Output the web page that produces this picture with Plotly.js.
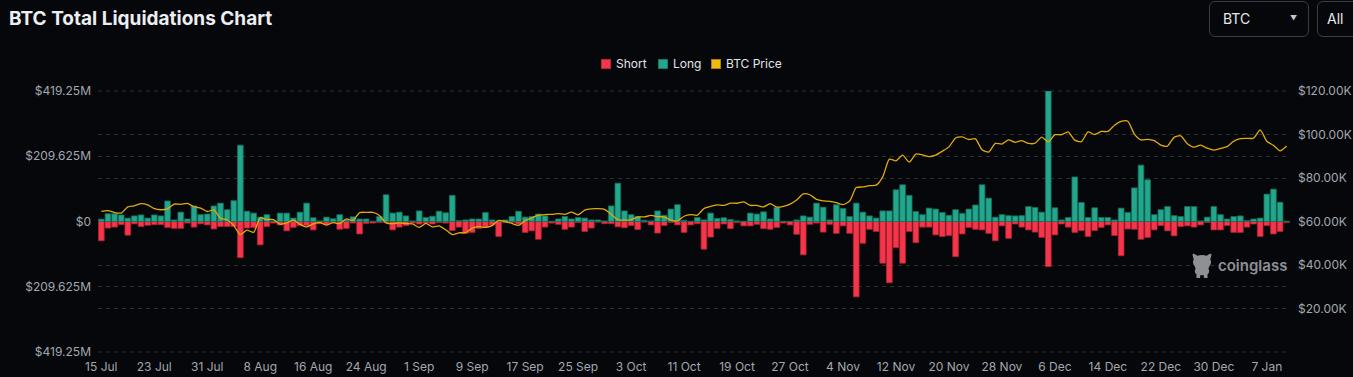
<!DOCTYPE html>
<html><head><meta charset="utf-8">
<script src="https://cdn.plot.ly/plotly-3.0.1.min.js"></script>
<style>
html,body{margin:0;padding:0;background:#05070b;overflow:hidden;}
#wrap{position:relative;width:1353px;height:377px;overflow:hidden;}
#chart{position:absolute;left:0;top:0;width:1353px;height:377px;}
.box{position:absolute;border:1px solid #393c43;border-radius:6px;color:#e6e7ea;font-family:Inter,"Noto Sans",sans-serif;font-size:14px;box-sizing:border-box;}
.lg{position:absolute;top:57px;height:14px;font-family:Inter,"Noto Sans",sans-serif;font-size:12px;color:#e4e5e8;line-height:14px;white-space:nowrap;}
.sq{position:absolute;width:10px;height:10px;top:59px;box-sizing:border-box;}
#wm{position:absolute;left:1218px;top:256px;font-family:Inter,"Noto Sans",sans-serif;font-size:15px;font-weight:600;color:#8e9095;}
</style>
</head><body>
<div id="wrap">
<div id="chart"></div>
<div class="box" style="left:1209px;top:1px;width:100px;height:36px;"><span style="position:absolute;left:13px;top:8px;">BTC</span><span style="position:absolute;left:80px;top:12px;font-size:7px;color:#c4c6ca;">&#9660;</span></div>
<div class="box" style="left:1317px;top:1px;width:70px;height:36px;"><span style="position:absolute;left:9px;top:8px;">All</span></div>
<div class="sq" style="left:601px;background:#f5364a;border:1px solid #b52533;"></div>
<div class="lg" style="left:616px;">Short</div>
<div class="sq" style="left:658px;background:#22a68c;border:1px solid #167661;"></div>
<div class="lg" style="left:673px;">Long</div>
<div class="sq" style="left:711px;background:#f0b90b;border:1px solid #a8820a;"></div>
<div class="lg" style="left:726px;">BTC Price</div>
<svg style="position:absolute;left:1190px;top:252px;" width="24" height="28" viewBox="0 0 26 30">
<path d="M3 4 Q2 1 5 2 L8 4 Q13 2 18 4 L21 2 Q24 1 23 4 L22 8 Q24 12 21 15 L20 18 Q22 22 19 24 L19 28 L15 28 L15 25 L11 25 L11 28 L7 28 L7 24 Q4 22 6 18 L5 15 Q2 12 4 8 Z" fill="#8e9095"/>
</svg>
<div id="wm">coinglass</div>
</div>
<script>
// Dates: daily from 15 Jul 2024 to 10 Jan 2025
var startDate = '2024-07-15';
var dayCount = 180;

// Long liquidations (USD millions), positive
var longLiq = [
 7.5,25,25,21,11,18,21,11,21,18,
 66,5,30,8,50,22,24,50,59,38,
 67,245,33,27,14,22,2,27,27,11,
 30,59,12,2,14,9,22,5,15,8,
 8,1,16,86,27,30,18,2,34,13,
 17,33,28,84,3,5,8,8,29,5,
 2,5,16,33,14,16,24,18,1,8,
 16,8,13,11,5,5,2,50,123,34,
 22,16,4,2,34,20,40,54,4,0.5,
 13,5,27,10,12,6,2,1,27,24,
 31,8,45,0.5,0.5,5,18,14,59,46,
 5,54,42,16,59,30,18,11,34,34,
 102,118,84,32,22,43,40,29,20,38,
 26,40,53,118,75,14,22,19,18,19,
 48,45,30,419.25,44,5,13,143,61,13,
 44,13,13,5,43,29,108,181,134,22,
 38,48,19,16,48,48,2,14,48,22,
 8,16,18,3,8,11,88,104,62,1
];

// Short liquidations (USD millions), shown below zero
var shortLiq = [
 62,21,18,10,44,7.5,16,12,10,10,
 19,22,22,5,18,7.5,11,24,16,16,
 16,116,21,19,75,16,5,11,30,19,
 13,13,27,7,11,3,25,22,5,40,
 6,5,3,3,27,18,13,5,8,5,
 8,3,5,29,18,38,35,22,18,11,
 48,3,3,8,35,30,57,18,5,9,
 25,18,3,32,21,2,7,7,17,20,
 13,26,2,11,37,13,3,11,35,11,
 7,89,50,22,8,23,3,14,14,9,
 23,25,19,5,11,41,107,9,5,34,
 9,38,14,38,242,70,25,32,134,197,
 84,134,32,68,18,18,43,48,45,113,
 40,19,25,27,38,62,14,54,8,18,
 27,34,51,145,43,8,18,35,29,48,
 29,19,11,45,110,24,25,57,51,27,
 13,30,46,16,14,18,11,3,27,27,
 13,35,35,18,8,48,13,40,32,3
];

// BTC price (USD thousands)
var btcPriceK = [
 64.7,65.0,64.1,63.9,66.7,67.2,68.2,67.6,65.9,65.4,65.8,68.0,67.9,68.3,66.8,66.2,64.6,
 65.3,61.5,60.7,58.1,54.0,56.0,55.0,61.7,60.9,60.9,58.7,59.4,60.6,58.7,57.5,58.9,59.5,58.4,59.5,59.0,61.2,60.4,64.1,64.2,64.2,62.8,59.4,59.0,59.4,59.1,58.9,
 57.3,59.1,57.5,58.0,56.2,54.0,54.8,54.9,57.0,57.6,57.3,58.1,60.5,60.0,59.1,58.2,60.3,61.7,62.9,63.2,63.3,63.6,63.3,64.3,63.1,65.2,65.8,65.9,65.6,63.3,
 60.8,60.6,60.8,62.1,62.1,62.8,62.2,62.1,60.6,60.3,62.4,63.2,62.9,66.0,67.0,67.6,67.4,68.4,68.4,69.0,67.4,67.4,66.7,68.2,66.6,67.0,68.0,69.9,72.7,72.3,70.2,
 69.5,69.3,68.7,67.8,69.4,75.6,75.9,76.5,76.7,80.5,88.7,87.9,90.5,87.3,91.0,90.6,89.8,90.5,92.3,94.3,98.4,98.9,97.7,98.0,93.0,91.9,95.9,95.6,97.5,96.4,
 97.2,95.9,96.0,98.8,96.6,99.9,99.9,101.2,97.4,96.7,101.2,100.0,101.4,101.4,104.3,106.0,106.1,100.2,97.5,97.8,97.2,95.1,94.7,98.7,99.4,95.8,94.2,95.1,93.7,92.8,93.6,
 94.4,96.9,98.1,98.2,98.3,102.1,96.9,95.0,92.5,94.7
];

var leftTickVals = [-419.25,-209.625,0,209.625,419.25];
var leftTickText = ['$419.25M','$209.625M','$0','$209.625M','$419.25M'];
var rightTickVals = [20,40,60,80,100,120];
var rightTickText = ['$20.00K','$40.00K','$60.00K','$80.00K','$100.00K','$120.00K'];

var dates = [];
(function(){
  var d = new Date(startDate + 'T00:00:00Z');
  for (var i = 0; i < dayCount; i++) {
    var t = new Date(d.getTime() + i*86400000);
    dates.push(t.toISOString().slice(0,10));
  }
})();

var shortNeg = shortLiq.map(function(v){return -v;});
var priceUSD = btcPriceK.map(function(v){return v*1000;});

var fontFam = 'Inter, "Noto Sans", sans-serif';
var tickFont = {family: fontFam, size: 12, color: '#a4a7ae'};
var gridCol = '#2b2e35';

var traces = [
 {type:'bar', name:'Short', x:dates, y:shortNeg, yaxis:'y',
  marker:{color:'#f5364a', line:{color:'#b02332', width:0.8}}, hoverinfo:'skip'},
 {type:'bar', name:'Long', x:dates, y:longLiq, yaxis:'y',
  marker:{color:'#22a68c', line:{color:'#136e5b', width:0.8}}, hoverinfo:'skip'},
 {type:'scatter', mode:'lines', name:'BTC Price', x:dates, y:priceUSD, yaxis:'y2',
  line:{color:'#e2aa0a', width:1.3, shape:'spline', smoothing:0.6}, hoverinfo:'skip'}
];

var edgeLine = {type:'line', xref:'paper', yref:'paper', x0:0, x1:1, layer:'below',
                line:{color:gridCol, width:1, dash:'4px,4px'}};

var layout = {
  width:1353, height:377,
  paper_bgcolor:'#05070b', plot_bgcolor:'#05070b',
  margin:{l:98, r:63, t:91, b:25, pad:0},
  showlegend:false,
  barmode:'relative', bargap:0.14,
  title:{text:'<b>BTC Total Liquidations Chart</b>', font:{family:fontFam, size:19, color:'#eceef1'},
         x:9/1353, xref:'container', xanchor:'left', y:1-18/377, yref:'container', yanchor:'middle'},
  shapes:[
    Object.assign({}, edgeLine, {y0:1, y1:1}),
    Object.assign({}, edgeLine, {y0:0, y1:0})
  ],
  xaxis:{type:'date', range:['2024-07-14 12:00','2025-01-10 12:00'],
         tick0:'2024-07-15', dtick:8*86400000, tickformat:'%-d %b',
         showgrid:false, zeroline:false, showline:false, ticks:'', tickfont:tickFont,
         ticklabelstandoff:6, fixedrange:true},
  yaxis:{range:[-419.25,419.25], tickvals:leftTickVals, ticktext:leftTickText,
         showgrid:true, gridcolor:gridCol, griddash:'4px,4px', gridwidth:1,
         zeroline:false, showline:false, ticks:'', tickfont:tickFont, ticklabelstandoff:6},
  yaxis2:{overlaying:'y', side:'right', range:[0,120000],
          tickvals:rightTickVals.map(function(v){return v*1000;}), ticktext:rightTickText,
          showgrid:true, gridcolor:gridCol, griddash:'4px,4px', gridwidth:1,
          zeroline:false, showline:false, ticks:'', tickfont:tickFont, ticklabelstandoff:7}
};

Plotly.newPlot('chart', traces, layout, {staticPlot:true, displayModeBar:false});
</script>
</body></html>
